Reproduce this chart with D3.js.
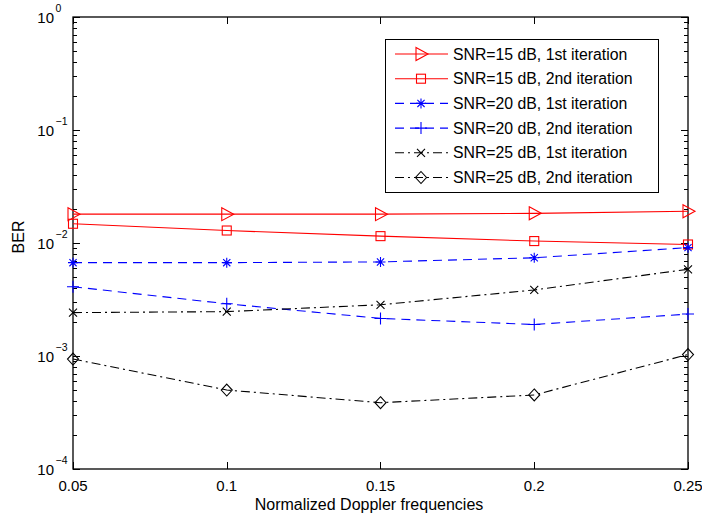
<!DOCTYPE html>
<html>
<head>
<meta charset="utf-8">
<script src="https://cdnjs.cloudflare.com/ajax/libs/d3/7.8.5/d3.min.js"></script>
<style>
  html, body { margin: 0; padding: 0; background: #fff; overflow: hidden; }
  svg { display: block; }
  text { font-family: "Liberation Sans", Arial, sans-serif; fill: #000; }
</style>
</head>
<body>
<svg id="chart"></svg>
<script>
  var doppler = [0.05, 0.1, 0.15, 0.2, 0.25];
  var xTicks = ['0.05', '0.1', '0.15', '0.2', '0.25'];
  var yExponents = [0, -1, -2, -3, -4];

  var snr15first = [0.0180, 0.0180, 0.0180, 0.0183, 0.0191];
  var snr15second = [0.0148, 0.0129, 0.0115, 0.0104, 0.0097];
  var snr20first = [0.0067, 0.0067, 0.0068, 0.0074, 0.0091];
  var snr20second = [0.0041, 0.0029, 0.00215, 0.0019, 0.00235];
  var snr25first = [0.00242, 0.00247, 0.00284, 0.00384, 0.00585];
  var snr25second = [0.00094, 0.0005, 0.000386, 0.000452, 0.00103];

  var labels = ['SNR=15 dB, 1st iteration', 'SNR=15 dB, 2nd iteration',
    'SNR=20 dB, 1st iteration', 'SNR=20 dB, 2nd iteration',
    'SNR=25 dB, 1st iteration', 'SNR=25 dB, 2nd iteration'];

  var series = [
    { values: snr15first, color: '#ff0000', dash: null, marker: 'tri' },
    { values: snr15second, color: '#ff0000', dash: null, marker: 'square' },
    { values: snr20first, color: '#0000ff', dash: '9,6', marker: 'star' },
    { values: snr20second, color: '#0000ff', dash: '9,6', marker: 'plus' },
    { values: snr25first, color: '#000000', dash: '9,4,2,4', marker: 'x' },
    { values: snr25second, color: '#000000', dash: '9,4,2,4', marker: 'diamond' }
  ];

  var width = 702, height = 521;
  var margin = { top: 17, right: 14, bottom: 52, left: 73 };
  var innerWidth = width - margin.left - margin.right;
  var innerHeight = height - margin.top - margin.bottom;

  var svg = d3.select('#chart').attr('width', width).attr('height', height);
  var g = svg.append('g').attr('transform', 'translate(' + margin.left + ',' + margin.top + ')');

  var x = d3.scaleLinear().domain([0.05, 0.25]).range([0, innerWidth]);
  var y = d3.scaleLog().domain([1e-4, 1]).range([innerHeight, 0]);

  // minor/major ticks on left and right
  var minor = [];
  for (var e = -4; e < 0; e++) {
    for (var m = 1; m < 10; m++) minor.push(m * Math.pow(10, e));
  }
  minor.push(1);

  g.selectAll('.ytick').data(minor).enter().append('path')
    .attr('d', function(d) {
      var len = (Math.abs(Math.log10(d) - Math.round(Math.log10(d))) < 1e-9) ? 7 : 4;
      var yy = Math.round(y(d)) + 0.5;
      return 'M0,' + yy + 'h' + len + 'M' + innerWidth + ',' + yy + 'h' + (-len);
    })
    .attr('stroke', '#000').attr('stroke-width', 1);

  g.selectAll('.xtick').data(doppler).enter().append('path')
    .attr('d', function(d) {
      var xx = Math.round(x(d)) + 0.5;
      return 'M' + xx + ',' + innerHeight + 'v-7M' + xx + ',0v7';
    })
    .attr('stroke', '#000').attr('stroke-width', 1);

  g.append('rect').attr('x', 0).attr('y', 0)
    .attr('width', innerWidth).attr('height', innerHeight)
    .attr('fill', 'none').attr('stroke', '#000').attr('stroke-width', 1.3);

  // tick labels
  g.selectAll('.xlab').data(doppler).enter().append('text')
    .attr('x', function(d) { return x(d); })
    .attr('y', innerHeight + 22)
    .attr('text-anchor', 'middle')
    .style('font-size', '15px')
    .text(function(d, i) { return xTicks[i]; });

  var ylab = g.selectAll('.ylab').data(yExponents).enter().append('g')
    .attr('transform', function(d) { return 'translate(-19,' + y(Math.pow(10, d)) + ')'; });
  ylab.append('text').attr('x', 0).attr('y', 6).attr('text-anchor', 'end')
    .style('font-size', '15px').text('10');
  ylab.append('text').attr('x', 1.5).attr('y', -5).attr('text-anchor', 'start')
    .style('font-size', '10.5px').text(function(d) { return d === 0 ? '0' : '\u2212' + (-d); });

  svg.append('text')
    .attr('x', 369).attr('y', 510)
    .attr('text-anchor', 'middle').style('font-size', '16px')
    .text('Normalized Doppler frequencies');

  svg.append('text')
    .attr('transform', 'translate(24,237) rotate(-90)')
    .attr('text-anchor', 'middle').style('font-size', '16px')
    .text('BER');

  function drawMarker(sel, type, color) {
    if (type === 'tri') {
      sel.append('path').attr('d', 'M-5,-6.5L7,0L-5,6.5Z');
    } else if (type === 'square') {
      sel.append('rect').attr('x', -4.5).attr('y', -4.5).attr('width', 9).attr('height', 9);
    } else if (type === 'star') {
      sel.append('path').attr('d', 'M-5,0H5M0,-5V5M-3.6,-3.6L3.6,3.6M-3.6,3.6L3.6,-3.6');
    } else if (type === 'plus') {
      sel.append('path').attr('d', 'M-6,0H6M0,-6V6');
    } else if (type === 'x') {
      sel.append('path').attr('d', 'M-4,-4L4,4M-4,4L4,-4');
    } else if (type === 'diamond') {
      sel.append('path').attr('d', 'M0,-6L5.5,0L0,6L-5.5,0Z');
    }
    sel.selectAll('*').attr('fill', 'none').attr('stroke', color).attr('stroke-width', 1.1);
  }

  var line = d3.line()
    .x(function(d, i) { return x(doppler[i]); })
    .y(function(d) { return y(d); });

  series.forEach(function(s) {
    g.append('path').datum(s.values)
      .attr('d', line)
      .attr('fill', 'none')
      .attr('stroke', s.color)
      .attr('stroke-width', 1.1)
      .attr('stroke-dasharray', s.dash);
    g.selectAll(null).data(s.values).enter().append('g')
      .attr('transform', function(d, i) { return 'translate(' + x(doppler[i]) + ',' + y(d) + ')'; })
      .each(function() { drawMarker(d3.select(this), s.marker, s.color); });
  });

  // legend
  var legend = svg.append('g').attr('transform', 'translate(385,39)');
  legend.append('rect').attr('x', 0.5).attr('y', 0.5).attr('width', 273).attr('height', 153)
    .attr('fill', '#fff').attr('stroke', '#000').attr('stroke-width', 1);

  series.forEach(function(s, i) {
    var row = legend.append('g').attr('transform', 'translate(0,' + (15 + i * 24.7) + ')');
    row.append('path').attr('d', 'M10,0H63')
      .attr('stroke', s.color).attr('stroke-width', 1.1)
      .attr('stroke-dasharray', s.dash).attr('fill', 'none');
    var mk = row.append('g').attr('transform', 'translate(36,0)');
    drawMarker(mk, s.marker, s.color);
    row.append('text').attr('x', 68).attr('y', 5.5).style('font-size', '15.8px').text(labels[i]);
  });
</script>
</body>
</html>
